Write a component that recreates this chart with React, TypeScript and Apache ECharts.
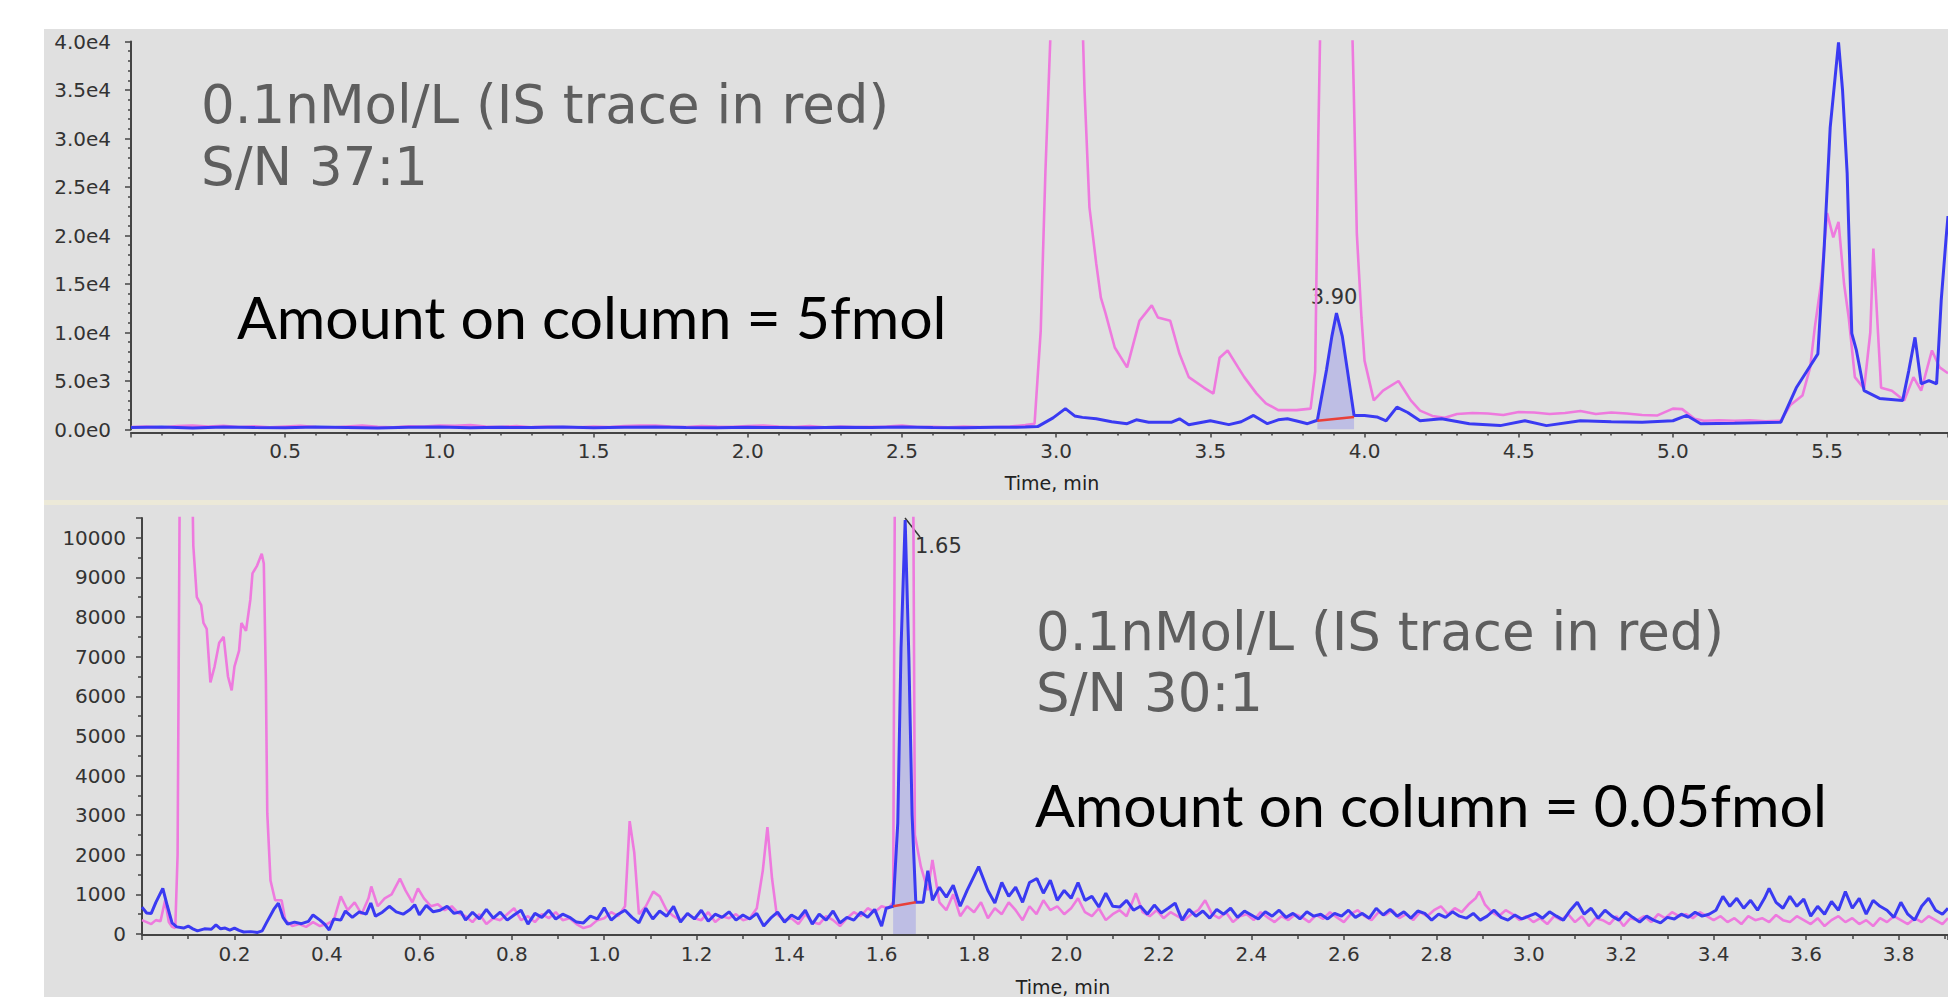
import React, { useEffect, useRef } from 'react';
import * as echarts from 'echarts';

// ---------- Top panel (5 fmol on column) ----------
// IS trace (pink) [time min, intensity cps]
const topIS: [number, number][] = [
  [0, 250], [0.05, 300], [0.1, 200], [0.15, 350], [0.2, 420], [0.25, 300], [0.3, 380], [0.35, 250], [0.4, 330],
  [0.45, 220], [0.5, 300], [0.55, 380], [0.6, 260], [0.65, 200], [0.7, 300], [0.75, 400], [0.8, 280], [0.85, 220],
  [0.9, 320], [0.95, 300], [1.0, 420], [1.05, 380], [1.1, 450], [1.15, 300], [1.2, 280], [1.25, 350], [1.3, 240],
  [1.35, 300], [1.4, 260], [1.45, 220], [1.5, 300], [1.55, 250], [1.6, 350], [1.65, 400], [1.7, 420], [1.75, 300],
  [1.8, 260], [1.85, 350], [1.9, 300], [1.95, 280], [2.0, 350], [2.05, 420], [2.1, 300], [2.15, 260], [2.2, 350],
  [2.25, 220], [2.3, 300], [2.35, 250], [2.4, 280], [2.45, 300], [2.5, 400], [2.55, 250], [2.6, 280], [2.65, 220],
  [2.7, 300], [2.75, 250], [2.8, 260], [2.85, 300], [2.9, 450], [2.93, 600], [2.95, 10200], [2.965, 26400],
  [2.99, 48000], [3.08, 48000], [3.092, 35000], [3.108, 22900], [3.13, 17100], [3.145, 13600], [3.16, 12000],
  [3.19, 8450], [3.23, 6400], [3.27, 11200], [3.31, 12800], [3.33, 11550], [3.37, 11200], [3.4, 7800], [3.43, 5400],
  [3.48, 4300], [3.51, 3700], [3.53, 7400], [3.556, 8150], [3.59, 6400], [3.61, 5400], [3.65, 3700], [3.68, 2700],
  [3.72, 2000], [3.78, 2000], [3.825, 2150], [3.84, 6000], [3.85, 30000], [3.86, 48000], [3.955, 48000],
  [3.965, 35000], [3.975, 20200], [3.99, 11550], [4.0, 7100], [4.03, 3000], [4.06, 4000], [4.11, 5000],
  [4.15, 3000], [4.18, 1950], [4.22, 1400], [4.26, 1200], [4.3, 1600], [4.35, 1700], [4.4, 1650], [4.45, 1500],
  [4.5, 1800], [4.55, 1750], [4.6, 1600], [4.65, 1700], [4.7, 1900], [4.75, 1600], [4.8, 1750], [4.85, 1650],
  [4.9, 1500], [4.95, 1450], [5.0, 2150], [5.03, 2100], [5.07, 1100], [5.1, 900], [5.15, 950], [5.2, 900],
  [5.25, 950], [5.3, 850], [5.35, 900], [5.38, 2500], [5.42, 3500], [5.445, 6400], [5.46, 10500], [5.48, 15000],
  [5.5, 22300], [5.52, 19800], [5.537, 21400], [5.555, 15000], [5.57, 11550], [5.59, 5400], [5.62, 4200],
  [5.64, 10000], [5.65, 18650], [5.665, 10000], [5.675, 4300], [5.71, 4000], [5.75, 3000], [5.78, 5400],
  [5.805, 4000], [5.84, 8150], [5.865, 6400], [5.892, 5800],
];
// Analyte trace (blue)
const topAnalyte: [number, number][] = [
  [0, 200], [0.1, 250], [0.2, 150], [0.3, 250], [0.4, 200], [0.5, 180], [0.6, 250], [0.7, 200], [0.8, 150],
  [0.9, 220], [1.0, 250], [1.1, 180], [1.2, 220], [1.3, 200], [1.4, 250], [1.5, 180], [1.6, 220], [1.7, 250],
  [1.8, 200], [1.9, 180], [2.0, 230], [2.1, 200], [2.2, 170], [2.3, 220], [2.4, 200], [2.5, 250], [2.6, 200],
  [2.7, 180], [2.8, 220], [2.9, 250], [2.94, 300], [2.99, 1200], [3.03, 2150], [3.06, 1400], [3.085, 1250],
  [3.13, 1100], [3.18, 800], [3.23, 600], [3.26, 1000], [3.3, 750], [3.375, 750], [3.4, 1100], [3.43, 500],
  [3.5, 900], [3.56, 500], [3.6, 800], [3.64, 1450], [3.685, 600], [3.72, 1000], [3.75, 1100], [3.79, 800],
  [3.815, 600], [3.847, 950], [3.877, 6200], [3.894, 9600], [3.909, 12000], [3.928, 9600], [3.944, 6200],
  [3.966, 1450], [4.0, 1450], [4.04, 1300], [4.07, 900], [4.105, 2300], [4.14, 1750], [4.18, 900], [4.25, 1100],
  [4.34, 600], [4.44, 400], [4.52, 900], [4.59, 400], [4.7, 900], [4.8, 800], [4.9, 750], [5.0, 900],
  [5.045, 1450], [5.09, 600], [5.2, 650], [5.35, 750], [5.4, 4300], [5.43, 5800], [5.47, 7800], [5.49, 18450],
  [5.51, 31150], [5.525, 36000], [5.537, 39900], [5.55, 35000], [5.565, 26400], [5.58, 9900], [5.595, 8150],
  [5.62, 4000], [5.67, 3200], [5.745, 3000], [5.765, 6100], [5.785, 9500], [5.805, 4700], [5.83, 5050],
  [5.855, 4700], [5.87, 13300], [5.886, 19800], [5.892, 22000],
];
const topPeakWindow: [number, number] = [3.847, 3.966];
const topBaseline: [number, number][] = [[3.847, 900], [3.966, 1300]];
const topPeakLabel = '3.90';
const topYTicks = [0, 5000, 10000, 15000, 20000, 25000, 30000, 35000, 40000];

// ---------- Bottom panel (0.05 fmol on column) ----------
const bottomIS: [number, number][] = [
  [0, 350], [0.01, 300], [0.02, 250], [0.03, 350], [0.04, 320], [0.05, 850], [0.058, 300], [0.065, 180],
  [0.072, 150], [0.077, 2000], [0.082, 12000], [0.108, 12000], [0.111, 9800], [0.1186, 8500], [0.128, 8300],
  [0.133, 7850], [0.14, 7700], [0.148, 6350], [0.157, 6750], [0.167, 7350], [0.1766, 7500], [0.186, 6500],
  [0.194, 6150], [0.2, 6750], [0.21, 7150], [0.215, 7850], [0.225, 7650], [0.2345, 8450], [0.239, 9100],
  [0.249, 9300], [0.259, 9600], [0.2635, 9350], [0.268, 6400], [0.271, 3050], [0.278, 1350], [0.288, 850],
  [0.302, 850], [0.31, 350], [0.325, 200], [0.34, 250], [0.355, 180], [0.37, 300], [0.385, 200], [0.4, 250],
  [0.415, 350], [0.43, 950], [0.445, 600], [0.46, 800], [0.475, 500], [0.49, 900], [0.496, 1200], [0.51, 700],
  [0.525, 900], [0.54, 1000], [0.558, 1400], [0.57, 1100], [0.585, 800], [0.597, 1150], [0.61, 900], [0.625, 700],
  [0.64, 750], [0.655, 600], [0.67, 700], [0.685, 520], [0.7, 450], [0.715, 300], [0.73, 500], [0.745, 250],
  [0.76, 400], [0.775, 350], [0.79, 500], [0.805, 650], [0.82, 350], [0.835, 450], [0.85, 300], [0.865, 500],
  [0.88, 400], [0.895, 550], [0.91, 350], [0.925, 400], [0.94, 250], [0.955, 150], [0.97, 200], [0.985, 350],
  [1.0, 400], [1.015, 550], [1.03, 450], [1.045, 700], [1.055, 2850], [1.065, 2050], [1.075, 500], [1.09, 700],
  [1.106, 1070], [1.12, 950], [1.135, 600], [1.15, 450], [1.165, 350], [1.18, 500], [1.195, 400], [1.21, 350],
  [1.225, 550], [1.24, 300], [1.255, 450], [1.27, 400], [1.285, 500], [1.3, 350], [1.315, 400], [1.33, 650],
  [1.343, 1600], [1.353, 2700], [1.363, 1400], [1.373, 500], [1.39, 350], [1.405, 400], [1.42, 250], [1.435, 500],
  [1.45, 300], [1.465, 250], [1.48, 450], [1.495, 350], [1.51, 200], [1.525, 400], [1.54, 550], [1.555, 450],
  [1.57, 650], [1.585, 550], [1.6, 700], [1.615, 650], [1.625, 800], [1.63, 15000], [1.667, 15000], [1.672, 2500],
  [1.685, 1700], [1.7, 1100], [1.71, 1870], [1.725, 800], [1.74, 600], [1.755, 1000], [1.77, 450], [1.785, 700],
  [1.8, 550], [1.815, 800], [1.83, 400], [1.845, 650], [1.86, 500], [1.875, 800], [1.89, 600], [1.905, 350],
  [1.92, 700], [1.935, 500], [1.95, 850], [1.965, 600], [1.98, 700], [1.995, 500], [2.01, 650], [2.025, 900],
  [2.04, 550], [2.055, 450], [2.07, 650], [2.085, 350], [2.1, 500], [2.115, 600], [2.13, 450], [2.15, 1030],
  [2.165, 550], [2.18, 450], [2.195, 600], [2.21, 400], [2.225, 550], [2.24, 450], [2.255, 350], [2.27, 500],
  [2.285, 600], [2.3, 850], [2.315, 500], [2.33, 400], [2.345, 550], [2.36, 300], [2.375, 450], [2.39, 500],
  [2.405, 350], [2.42, 550], [2.435, 420], [2.45, 300], [2.465, 450], [2.48, 350], [2.495, 500], [2.51, 420],
  [2.525, 300], [2.54, 480], [2.555, 380], [2.57, 550], [2.585, 420], [2.6, 300], [2.615, 500], [2.63, 600],
  [2.645, 450], [2.66, 350], [2.675, 550], [2.69, 480], [2.705, 600], [2.72, 400], [2.735, 500], [2.75, 350],
  [2.765, 550], [2.78, 450], [2.795, 600], [2.81, 700], [2.825, 500], [2.84, 650], [2.855, 550], [2.87, 750],
  [2.885, 900], [2.893, 1070], [2.905, 750], [2.92, 550], [2.935, 450], [2.95, 600], [2.965, 500], [2.98, 350],
  [2.995, 450], [3.01, 300], [3.025, 400], [3.04, 250], [3.055, 450], [3.07, 350], [3.085, 500], [3.1, 300],
  [3.115, 450], [3.13, 200], [3.145, 400], [3.16, 350], [3.175, 250], [3.19, 450], [3.205, 200], [3.22, 400],
  [3.235, 350], [3.25, 450], [3.265, 300], [3.28, 500], [3.295, 400], [3.31, 550], [3.325, 450], [3.34, 500],
  [3.355, 400], [3.37, 550], [3.385, 450], [3.4, 350], [3.415, 450], [3.43, 300], [3.445, 400], [3.46, 250],
  [3.475, 450], [3.49, 350], [3.505, 400], [3.52, 300], [3.535, 480], [3.55, 350], [3.565, 300], [3.58, 450],
  [3.595, 350], [3.61, 250], [3.625, 400], [3.64, 200], [3.655, 350], [3.67, 450], [3.685, 300], [3.7, 400],
  [3.715, 250], [3.73, 350], [3.745, 200], [3.76, 400], [3.775, 300], [3.79, 450], [3.805, 350], [3.82, 250],
  [3.835, 400], [3.85, 300], [3.865, 450], [3.88, 350], [3.895, 250], [3.907, 400],
];
const bottomAnalyte: [number, number][] = [
  [0, 680], [0.01, 530], [0.02, 520], [0.03, 800], [0.045, 1150], [0.055, 700], [0.065, 280], [0.075, 180],
  [0.09, 150], [0.1, 200], [0.11, 130], [0.12, 80], [0.135, 130], [0.15, 120], [0.16, 230], [0.17, 130],
  [0.18, 150], [0.19, 100], [0.2, 150], [0.21, 90], [0.22, 50], [0.235, 60], [0.25, 40], [0.26, 80], [0.27, 300],
  [0.285, 620], [0.295, 780], [0.305, 420], [0.315, 250], [0.33, 300], [0.345, 260], [0.36, 320], [0.37, 480],
  [0.385, 350], [0.395, 250], [0.405, 100], [0.415, 380], [0.43, 350], [0.44, 580], [0.455, 420], [0.47, 560],
  [0.485, 500], [0.495, 780], [0.505, 450], [0.52, 550], [0.535, 700], [0.55, 560], [0.565, 500], [0.58, 620],
  [0.59, 740], [0.6, 480], [0.615, 720], [0.63, 560], [0.645, 600], [0.66, 700], [0.675, 520], [0.69, 560],
  [0.7, 350], [0.715, 550], [0.73, 380], [0.745, 620], [0.76, 400], [0.775, 550], [0.79, 350], [0.805, 480],
  [0.82, 600], [0.835, 250], [0.85, 520], [0.865, 420], [0.88, 600], [0.895, 380], [0.91, 500], [0.925, 420],
  [0.94, 300], [0.955, 280], [0.97, 450], [0.985, 380], [1.0, 660], [1.015, 350], [1.03, 500], [1.045, 600],
  [1.06, 420], [1.075, 280], [1.09, 650], [1.105, 380], [1.12, 580], [1.135, 450], [1.15, 700], [1.165, 300],
  [1.18, 520], [1.195, 380], [1.21, 600], [1.225, 320], [1.24, 500], [1.255, 420], [1.27, 560], [1.285, 350],
  [1.3, 480], [1.315, 380], [1.33, 520], [1.345, 200], [1.36, 400], [1.375, 550], [1.39, 300], [1.405, 480],
  [1.42, 380], [1.435, 600], [1.45, 250], [1.465, 500], [1.48, 350], [1.495, 580], [1.51, 280], [1.525, 420],
  [1.54, 350], [1.555, 550], [1.57, 420], [1.585, 620], [1.6, 200], [1.61, 650], [1.625, 700], [1.635, 2800],
  [1.642, 7200], [1.651, 10450], [1.659, 7000], [1.666, 3000], [1.674, 800], [1.69, 800], [1.7, 1600], [1.71, 850],
  [1.725, 1180], [1.74, 930], [1.755, 1230], [1.77, 700], [1.785, 1100], [1.81, 1700], [1.83, 1100], [1.845, 780],
  [1.86, 1300], [1.875, 950], [1.89, 1180], [1.905, 800], [1.92, 1300], [1.936, 1400], [1.95, 1030], [1.965, 1360],
  [1.98, 850], [1.995, 1100], [2.01, 900], [2.025, 1300], [2.04, 850], [2.055, 950], [2.07, 680], [2.085, 1030],
  [2.1, 700], [2.115, 680], [2.13, 850], [2.145, 600], [2.16, 700], [2.175, 500], [2.19, 730], [2.205, 530],
  [2.22, 650], [2.235, 780], [2.25, 350], [2.265, 620], [2.28, 450], [2.295, 580], [2.31, 400], [2.325, 620],
  [2.34, 500], [2.355, 650], [2.37, 420], [2.385, 580], [2.4, 480], [2.415, 380], [2.43, 560], [2.445, 450],
  [2.46, 600], [2.475, 420], [2.49, 520], [2.505, 380], [2.52, 560], [2.535, 450], [2.55, 500], [2.565, 380],
  [2.58, 520], [2.595, 450], [2.61, 600], [2.625, 420], [2.64, 520], [2.655, 400], [2.67, 650], [2.685, 480],
  [2.7, 620], [2.715, 450], [2.73, 560], [2.745, 400], [2.76, 580], [2.775, 520], [2.79, 350], [2.805, 500],
  [2.82, 420], [2.835, 560], [2.85, 450], [2.865, 400], [2.88, 520], [2.895, 350], [2.91, 450], [2.925, 600],
  [2.94, 420], [2.955, 350], [2.97, 480], [2.985, 380], [3.0, 450], [3.015, 520], [3.03, 400], [3.045, 560],
  [3.06, 450], [3.075, 350], [3.09, 600], [3.105, 800], [3.12, 500], [3.135, 650], [3.15, 400], [3.165, 600],
  [3.18, 450], [3.195, 350], [3.21, 550], [3.225, 420], [3.24, 300], [3.255, 450], [3.27, 350], [3.285, 280],
  [3.3, 420], [3.315, 380], [3.33, 500], [3.345, 420], [3.36, 550], [3.375, 450], [3.39, 500], [3.405, 600],
  [3.42, 950], [3.435, 700], [3.45, 900], [3.465, 650], [3.48, 850], [3.495, 600], [3.51, 900], [3.52, 1150],
  [3.535, 800], [3.55, 650], [3.565, 950], [3.58, 700], [3.595, 880], [3.61, 450], [3.625, 700], [3.64, 500],
  [3.655, 820], [3.67, 600], [3.685, 1070], [3.7, 650], [3.715, 900], [3.73, 500], [3.745, 850], [3.76, 700],
  [3.775, 600], [3.79, 420], [3.805, 800], [3.82, 500], [3.835, 350], [3.85, 700], [3.865, 900], [3.88, 600],
  [3.895, 500], [3.907, 650],
];
const bottomPeakWindow: [number, number] = [1.625, 1.674];
const bottomBaseline: [number, number][] = [[1.625, 700], [1.674, 800]];
const bottomPeakLabel = '1.65';

const topTitle = ['0.1nMol/L (IS trace in red)', 'S/N 37:1'];
const topAmount = 'Amount on column = 5fmol';
const bottomTitle = ['0.1nMol/L (IS trace in red)', 'S/N 30:1'];
const bottomAmount = 'Amount on column = 0.05fmol';
const xAxisName = 'Time, min';

const BLUE = '#3a3af2';
const PINK = '#ee7ade';
const AXIS = '#444444';
const LABEL = '#333333';

function inWindow(data: [number, number][], w: [number, number]) {
  return data.filter((d) => d[0] >= w[0] - 1e-9 && d[0] <= w[1] + 1e-9);
}

function near(v: number, step: number) {
  const r = v / step;
  return Math.abs(r - Math.round(r)) < 1e-6;
}

export default function App() {
  const ref = useRef<HTMLDivElement>(null);
  useEffect(() => {
    document.body.style.margin = '0';
    if (!ref.current) return;
    const chart = echarts.init(ref.current, undefined, { renderer: 'svg' });
    const lbl = { fontFamily: 'DejaVu Sans', fontSize: 20, color: LABEL };
    const line = { color: AXIS, width: 2 };
    const thin = { color: AXIS, width: 1.5 };
    const titleFont = '53px "DejaVu Sans"';
    const amountFont = '59px Lato';
    const tStyle = (text: string, x: number, y: number, font: string, fill: string, align = 'left') => ({
      type: 'text', x, y, silent: true,
      style: { text, font, fill, align, verticalAlign: 'middle' },
    });

    const option: any = {
      animation: false,
      backgroundColor: '#e0e0e0',
      grid: [
        { left: 131, top: 41.5, width: 1817, height: 388 },
        { left: 142, top: 518, width: 1806, height: 416 },
      ],
      xAxis: [
        {
          type: 'value', gridIndex: 0, min: 0, max: 5.892, interval: 0.5, offset: 3,
          axisLine: { show: true, onZero: false, lineStyle: line },
          axisTick: { show: true, length: 5, lineStyle: thin },
          minorTick: { show: true, splitNumber: 5, length: 3, lineStyle: thin },
          splitLine: { show: false },
          axisLabel: {
            ...lbl, margin: 8, showMaxLabel: false,
            formatter: (v: number) => (v > 0 && near(v, 0.5) ? v.toFixed(1) : ''),
          },
        },
        {
          type: 'value', gridIndex: 1, min: 0, max: 3.907, interval: 0.2, offset: 1,
          axisLine: { show: true, onZero: false, lineStyle: line },
          axisTick: { show: true, length: 5, lineStyle: thin },
          minorTick: { show: true, splitNumber: 2, length: 4, lineStyle: thin },
          splitLine: { show: false },
          axisLabel: {
            ...lbl, margin: 9, showMaxLabel: false,
            formatter: (v: number) => (v > 0 && near(v, 0.2) ? v.toFixed(1) : ''),
          },
        },
      ],
      yAxis: [
        {
          type: 'value', gridIndex: 0, min: 0, max: 40000, interval: 5000, offset: 3,
          axisLine: { show: true, lineStyle: line },
          axisTick: { show: true, length: 6, lineStyle: thin },
          minorTick: { show: true, splitNumber: 5, length: 3, lineStyle: thin },
          splitLine: { show: false },
          axisLabel: {
            ...lbl, margin: 17,
            formatter: (v: number) =>
              topYTicks.includes(v) ? (v === 0 ? '0.0e0' : v.toExponential(1).replace('e+', 'e')) : '',
          },
        },
        {
          type: 'value', gridIndex: 1, min: 0, max: 10500, interval: 1000, offset: 2,
          axisLine: { show: true, lineStyle: line },
          axisTick: { show: true, length: 6, lineStyle: thin },
          minorTick: { show: true, splitNumber: 2, length: 4, lineStyle: thin },
          splitLine: { show: false },
          axisLabel: {
            ...lbl, margin: 14, showMaxLabel: false,
            formatter: (v: number) => (near(v, 1000) && v <= 10000 ? String(v) : ''),
          },
        },
      ],
      series: [
        {
          type: 'line', xAxisIndex: 0, yAxisIndex: 0, data: inWindow(topAnalyte, topPeakWindow),
          symbol: 'none', lineStyle: { width: 0 }, areaStyle: { color: 'rgba(125,125,235,0.5)' }, z: 1,
        },
        {
          type: 'line', xAxisIndex: 0, yAxisIndex: 0, data: topIS, symbol: 'none', clip: true,
          lineStyle: { color: PINK, width: 2.6 }, z: 2,
        },
        {
          type: 'line', xAxisIndex: 0, yAxisIndex: 0, data: topAnalyte, symbol: 'none', clip: true,
          lineStyle: { color: BLUE, width: 3 }, z: 3,
        },
        {
          type: 'line', xAxisIndex: 0, yAxisIndex: 0, data: topBaseline, symbol: 'none',
          lineStyle: { color: '#e8403a', width: 2.5 }, z: 4,
        },
        {
          type: 'line', xAxisIndex: 1, yAxisIndex: 1, data: inWindow(bottomAnalyte, bottomPeakWindow),
          symbol: 'none', lineStyle: { width: 0 }, areaStyle: { color: 'rgba(125,125,235,0.5)' }, z: 1,
        },
        {
          type: 'line', xAxisIndex: 1, yAxisIndex: 1, data: bottomIS, symbol: 'none', clip: true,
          lineStyle: { color: PINK, width: 2.6 }, z: 2,
        },
        {
          type: 'line', xAxisIndex: 1, yAxisIndex: 1, data: bottomAnalyte, symbol: 'none', clip: true,
          lineStyle: { color: BLUE, width: 3 }, z: 3,
        },
        {
          type: 'line', xAxisIndex: 1, yAxisIndex: 1, data: bottomBaseline, symbol: 'none',
          lineStyle: { color: '#e8403a', width: 2.5 }, z: 4,
        },
      ],
      graphic: [
        { type: 'rect', shape: { x: 0, y: 0, width: 1948, height: 29 }, style: { fill: '#ffffff' }, silent: true },
        { type: 'rect', shape: { x: 0, y: 0, width: 44, height: 997 }, style: { fill: '#ffffff' }, silent: true },
        { type: 'rect', shape: { x: 44, y: 500, width: 1904, height: 5 }, style: { fill: '#ece9d8' }, silent: true },
        tStyle(topTitle[0], 201, 104, titleFont, '#5e5e5e'),
        tStyle(topTitle[1], 201, 166, titleFont, '#5e5e5e'),
        tStyle(topAmount, 237, 316, amountFont, '#000000'),
        tStyle(bottomTitle[0], 1036, 631, titleFont, '#5e5e5e'),
        tStyle(bottomTitle[1], 1036, 692, titleFont, '#5e5e5e'),
        tStyle(bottomAmount, 1035, 804, amountFont, '#000000'),
        tStyle(topPeakLabel, 1334, 297, '21px "DejaVu Sans"', LABEL, 'center'),
        tStyle(bottomPeakLabel, 915, 546, '21px "DejaVu Sans"', LABEL),
        {
          type: 'line', shape: { x1: 905, y1: 518, x2: 920, y2: 537 },
          style: { stroke: '#333333', lineWidth: 1.5 }, silent: true,
        },
        tStyle(xAxisName, 1052, 483, '19px "DejaVu Sans"', '#222222', 'center'),
        tStyle(xAxisName, 1063, 987, '19px "DejaVu Sans"', '#222222', 'center'),
      ],
    };
    chart.setOption(option);
    return () => chart.dispose();
  }, []);
  return <div ref={ref} style={{ width: 1948, height: 997, position: 'absolute', left: 0, top: 0 }} />;
}
